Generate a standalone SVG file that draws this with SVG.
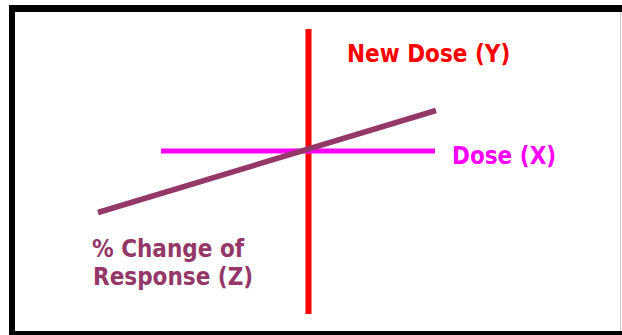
<svg xmlns="http://www.w3.org/2000/svg" width="622" height="335" viewBox="0 0 622 335">
  <style>
    .lbl { font-family: "DejaVu Sans Condensed", "DejaVu Sans", "Liberation Sans", sans-serif; font-stretch: condensed; font-weight: bold; font-size: 24px; }
    .axis { fill: none; stroke-linecap: butt; }
  </style>
  <rect x="0" y="0" width="622" height="335" fill="#ffffff"/>
  <g id="frame">
    <rect x="9" y="5" width="613" height="7" fill="#000000"/>
    <rect x="9" y="5" width="6" height="330" fill="#000000"/>
    <rect x="9" y="331" width="613" height="4" fill="#000000"/>
    <line x1="620.5" y1="12" x2="620.5" y2="331" stroke="#c8c8c8" stroke-width="1"/>
  </g>
  <g id="connectors">
    <line class="axis" x1="308.5" y1="29" x2="308.5" y2="314" stroke="#ff0000" stroke-width="6"/>
    <line class="axis" x1="161" y1="151" x2="435" y2="151" stroke="#ff00ff" stroke-width="5"/>
    <line class="axis" x1="98" y1="212.5" x2="436" y2="110.5" stroke="#933868" stroke-width="5.5"/>
  </g>
  <g id="node-y">
    <text class="lbl" x="347" y="62" fill="#ff0000">New Dose (Y)</text>
  </g>
  <g id="node-x">
    <text class="lbl" x="452" y="164" fill="#ff00ff">Dose (X)</text>
  </g>
  <g id="node-z">
    <text class="lbl" x="92" y="257" fill="#933868">% Change of</text>
    <text class="lbl" x="93" y="285" fill="#933868">Response (Z)</text>
  </g>
</svg>
